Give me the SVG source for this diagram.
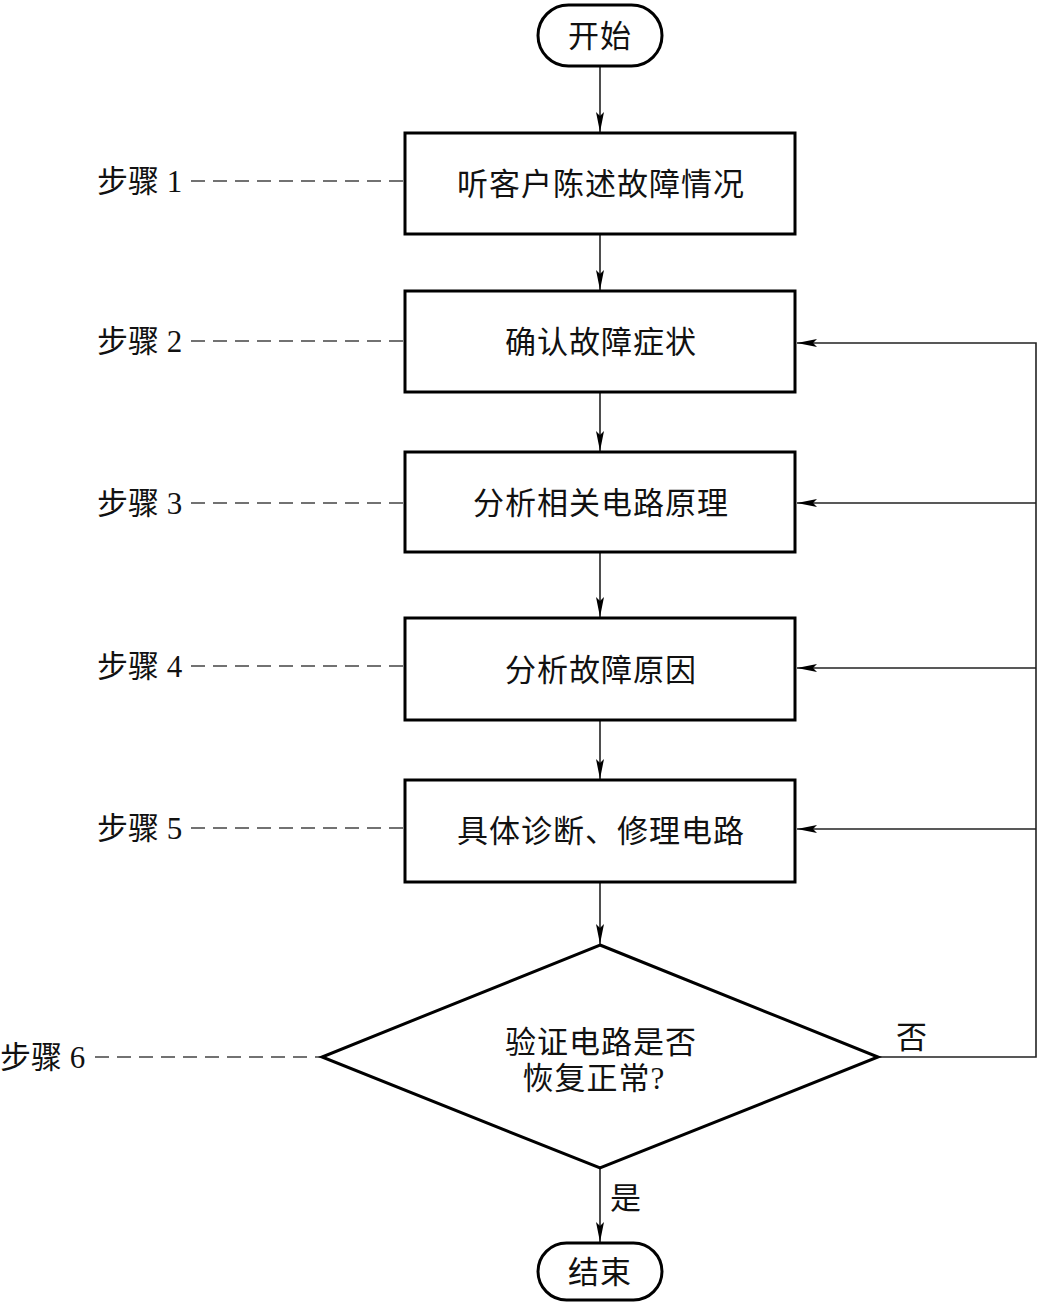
<svg xmlns="http://www.w3.org/2000/svg" width="1040" height="1304" viewBox="0 0 1040 1304">
<defs>
<marker id="arr" viewBox="0 0 20 8" refX="20" refY="4" markerWidth="20" markerHeight="8" markerUnits="userSpaceOnUse" orient="auto">
<path d="M0,0 L20,4 L0,8 L4,4 Z" fill="#000"/>
</marker>
<style>
.box{fill:#fff;stroke:#000;stroke-width:3}
.t{font-family:"Liberation Serif","Noto Sans CJK SC",serif;font-size:31px;letter-spacing:1px;fill:#111;text-anchor:middle;dominant-baseline:central}
.s{font-family:"Liberation Serif","Noto Sans CJK SC",serif;font-size:31px;fill:#111;dominant-baseline:central}
.ln{fill:none;stroke:#222;stroke-width:1.6}
.dash{fill:none;stroke:#444;stroke-width:1.6;stroke-dasharray:14,8}
</style>
</defs>
<rect width="1040" height="1304" fill="#fff"/>
<g id="connectors">
<line class="ln" x1="600" y1="66" x2="600" y2="132" marker-end="url(#arr)"/>
<line class="ln" x1="600" y1="235" x2="600" y2="290" marker-end="url(#arr)"/>
<line class="ln" x1="600" y1="393" x2="600" y2="451" marker-end="url(#arr)"/>
<line class="ln" x1="600" y1="553" x2="600" y2="617" marker-end="url(#arr)"/>
<line class="ln" x1="600" y1="721" x2="600" y2="779" marker-end="url(#arr)"/>
<line class="ln" x1="600" y1="883" x2="600" y2="944" marker-end="url(#arr)"/>
<line class="ln" x1="600" y1="1168" x2="600" y2="1242" marker-end="url(#arr)"/>
<polyline class="ln" points="878,1057 1036,1057 1036,343 797,343" marker-end="url(#arr)"/>
<line class="ln" x1="1036" y1="503" x2="797" y2="503" marker-end="url(#arr)"/>
<line class="ln" x1="1036" y1="668" x2="797" y2="668" marker-end="url(#arr)"/>
<line class="ln" x1="1036" y1="829" x2="797" y2="829" marker-end="url(#arr)"/>
<line class="dash" x1="191" y1="181" x2="404" y2="181"/>
<line class="dash" x1="191" y1="341" x2="404" y2="341"/>
<line class="dash" x1="191" y1="503" x2="404" y2="503"/>
<line class="dash" x1="191" y1="666" x2="404" y2="666"/>
<line class="dash" x1="191" y1="828" x2="404" y2="828"/>
<line class="dash" x1="95" y1="1057" x2="321" y2="1057"/>
<text class="s" x="896" y="1037">否</text>
<text class="s" x="610" y="1198">是</text>
</g>
<g id="start"><rect class="box" x="538" y="5" width="124" height="61" rx="30.5"/><text class="t" x="600" y="36">开始</text></g>
<g id="n1"><rect class="box" x="405" y="133" width="390" height="101"/><text class="t" x="601" y="184">听客户陈述故障情况</text></g>
<g id="n2"><rect class="box" x="405" y="291" width="390" height="101"/><text class="t" x="601" y="342">确认故障症状</text></g>
<g id="n3"><rect class="box" x="405" y="452" width="390" height="100"/><text class="t" x="601" y="503">分析相关电路原理</text></g>
<g id="n4"><rect class="box" x="405" y="618" width="390" height="102"/><text class="t" x="601" y="670">分析故障原因</text></g>
<g id="n5"><rect class="box" x="405" y="780" width="390" height="102"/><text class="t" x="601" y="831">具体诊断、修理电路</text></g>
<g id="d6"><polygon class="box" points="600,945 878,1057 600,1168 322,1057"/><text class="t" x="601" y="1042">验证电路是否</text><text class="t" x="594" y="1078">恢复正常?</text></g>
<g id="end"><rect class="box" x="538" y="1243" width="124" height="57" rx="28.5"/><text class="t" x="600" y="1272">结束</text></g>
<g id="steps">
<text class="s" x="97" y="181">步骤 1</text>
<text class="s" x="97" y="341">步骤 2</text>
<text class="s" x="97" y="503">步骤 3</text>
<text class="s" x="97" y="666">步骤 4</text>
<text class="s" x="97" y="828">步骤 5</text>
<text class="s" x="0" y="1057">步骤 6</text>
</g>
</svg>
